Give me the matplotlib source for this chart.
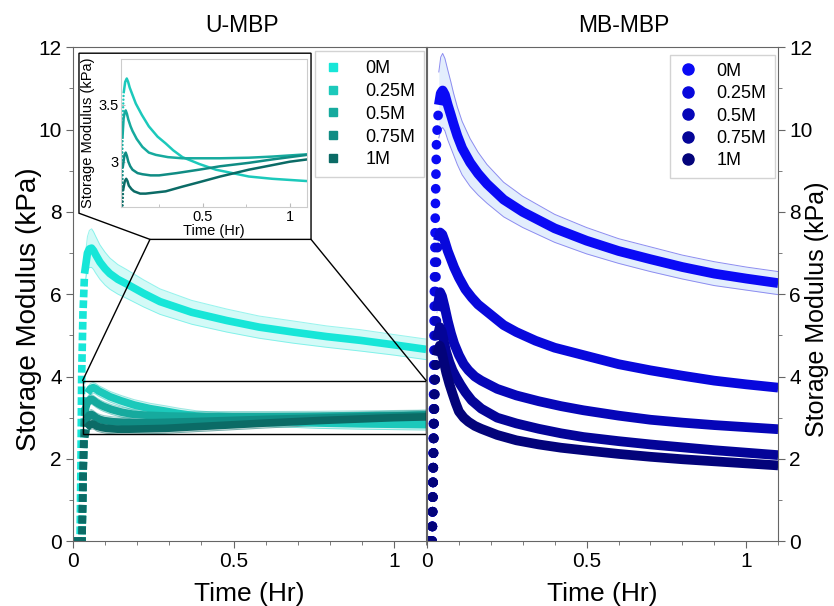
import numpy as np
import matplotlib.pyplot as plt
from matplotlib.lines import Line2D
from matplotlib.patches import Polygon, Rectangle, ConnectionPatch
from matplotlib.ticker import MultipleLocator

plt.rcParams['font.family'] = ['Liberation Sans', 'DejaVu Sans']

conc = ['0M', '0.25M', '0.5M', '0.75M', '1M']

# U-MBP: storage modulus (kPa) against time (hr), one list per urea concentration
u_t_0 = [0, 0.022, 0.025, 0.027, 0.031, 0.036, 0.045, 0.051, 0.058, 0.064, 0.07, 0.084, 0.1,
         0.115, 0.14, 0.167, 0.22, 0.271, 0.37, 0.479, 0.58, 0.686, 0.79, 0.894, 1.0, 1.1]
u_g_0 = [0, 0, 2.0, 4.0, 5.5, 6.5, 7.0, 7.1, 7.12, 7.06, 6.97, 6.78, 6.62,
         6.5, 6.36, 6.25, 6.02, 5.82, 5.56, 5.36, 5.2, 5.08, 4.97, 4.88, 4.77, 4.66]
u_sd_0 = [0, 0, 0.05, 0.1, 0.2, 0.3, 0.4, 0.45, 0.47, 0.46, 0.45, 0.42, 0.4,
          0.38, 0.36, 0.35, 0.33, 0.31, 0.29, 0.28, 0.27, 0.27, 0.26, 0.26, 0.25, 0.25]

u_t_25 = [0, 0.028, 0.031, 0.034, 0.038, 0.045, 0.054, 0.063, 0.071, 0.08, 0.1, 0.115, 0.15,
          0.19, 0.24, 0.287, 0.33, 0.383, 0.48, 0.575, 0.67, 0.765, 0.9, 1.0, 1.1]
u_g_25 = [0, 0, 1.5, 2.8, 3.3, 3.6, 3.7, 3.73, 3.7, 3.65, 3.57, 3.51, 3.41,
          3.31, 3.22, 3.16, 3.1, 3.04, 2.98, 2.93, 2.9, 2.87, 2.85, 2.84, 2.83]

u_t_50 = [0, 0.028, 0.031, 0.034, 0.038, 0.045, 0.051, 0.057, 0.064, 0.072, 0.085, 0.096, 0.12,
          0.153, 0.19, 0.23, 0.3, 0.383, 0.5, 0.6, 0.765, 0.9, 1.0, 1.1]
u_g_50 = [0, 0, 1.5, 2.7, 3.2, 3.38, 3.43, 3.45, 3.42, 3.37, 3.31, 3.27, 3.2,
          3.13, 3.08, 3.06, 3.04, 3.03, 3.03, 3.03, 3.035, 3.045, 3.055, 3.065]

u_t_75 = [0, 0.028, 0.031, 0.034, 0.04, 0.05, 0.057, 0.064, 0.072, 0.083, 0.096, 0.125, 0.153,
          0.2, 0.249, 0.35, 0.479, 0.6, 0.765, 0.9, 1.0, 1.1]
u_g_75 = [0, 0, 1.4, 2.5, 2.95, 3.06, 3.08, 3.05, 3.0, 2.96, 2.93, 2.9, 2.89,
          2.88, 2.88, 2.9, 2.93, 2.96, 2.99, 3.02, 3.04, 3.06]

u_t_100 = [0, 0.028, 0.031, 0.034, 0.042, 0.052, 0.06, 0.067, 0.075, 0.09, 0.105, 0.14, 0.172,
           0.287, 0.38, 0.479, 0.6, 0.765, 0.9, 1.0, 1.1]
u_g_100 = [0, 0, 1.4, 2.4, 2.75, 2.83, 2.85, 2.83, 2.79, 2.76, 2.74, 2.72, 2.72,
           2.74, 2.78, 2.82, 2.87, 2.93, 2.97, 3.0, 3.02]

# MB-MBP
m_t_0 = [0, 0.016, 0.019, 0.021, 0.023, 0.026, 0.03, 0.037, 0.043, 0.049, 0.056, 0.065, 0.075,
         0.083, 0.095, 0.11, 0.135, 0.16, 0.188, 0.24, 0.3, 0.4, 0.5, 0.6, 0.7, 0.8, 0.9, 1.0, 1.1]
m_g_0 = [0, 0, 2.0, 4.0, 6.0, 8.0, 9.8, 10.6, 10.88, 10.95, 10.85, 10.6, 10.35,
         10.14, 9.85, 9.55, 9.2, 8.93, 8.68, 8.3, 8.0, 7.6, 7.3, 7.05, 6.85, 6.66, 6.5, 6.38, 6.27]
m_sd_0 = [0, 0, 0.1, 0.2, 0.3, 0.45, 0.6, 0.8, 0.88, 0.9, 0.88, 0.85, 0.8,
          0.75, 0.7, 0.65, 0.58, 0.52, 0.47, 0.42, 0.38, 0.34, 0.32, 0.3, 0.3, 0.29, 0.29, 0.28, 0.28]

m_t_25 = [0, 0.016, 0.019, 0.022, 0.025, 0.029, 0.034, 0.041, 0.048, 0.055, 0.065, 0.075, 0.085,
          0.1, 0.12, 0.14, 0.16, 0.2, 0.24, 0.28, 0.34, 0.4, 0.5, 0.6, 0.7, 0.8, 0.9, 1.0, 1.1]
m_g_25 = [0, 0, 1.5, 3.5, 5.5, 6.7, 7.3, 7.5, 7.45, 7.3, 7.05, 6.85, 6.65,
          6.4, 6.12, 5.92, 5.75, 5.5, 5.25, 5.08, 4.87, 4.7, 4.5, 4.3, 4.15, 4.02, 3.9, 3.81, 3.73]

m_t_50 = [0, 0.016, 0.019, 0.022, 0.026, 0.031, 0.041, 0.047, 0.055, 0.065, 0.075, 0.085, 0.1,
          0.115, 0.13, 0.15, 0.17, 0.22, 0.28, 0.35, 0.42, 0.49, 0.6, 0.7, 0.8, 0.9, 1.0, 1.1]
m_g_50 = [0, 0, 1.5, 3.3, 4.8, 5.6, 6.05, 5.95, 5.7, 5.35, 5.05, 4.8, 4.52,
          4.3, 4.15, 4.0, 3.9, 3.7, 3.54, 3.4, 3.28, 3.18, 3.05, 2.95, 2.88, 2.82, 2.77, 2.72]

m_t_75 = [0, 0.016, 0.019, 0.022, 0.026, 0.031, 0.04, 0.046, 0.053, 0.06, 0.07, 0.08, 0.09,
          0.105, 0.12, 0.14, 0.17, 0.22, 0.28, 0.35, 0.42, 0.49, 0.6, 0.7, 0.8, 0.9, 1.0, 1.1]
m_g_75 = [0, 0, 1.4, 3.0, 4.3, 4.9, 5.2, 5.1, 4.85, 4.6, 4.35, 4.15, 4.0,
          3.8, 3.62, 3.42, 3.22, 3.0, 2.86, 2.73, 2.62, 2.53, 2.43, 2.35, 2.28, 2.21, 2.15, 2.09]

m_t_100 = [0, 0.016, 0.019, 0.022, 0.026, 0.031, 0.04, 0.046, 0.053, 0.06, 0.07, 0.08, 0.09,
           0.1, 0.115, 0.13, 0.15, 0.17, 0.22, 0.28, 0.35, 0.42, 0.49, 0.6, 0.7, 0.8, 0.9, 1.0, 1.1]
m_g_100 = [0, 0, 1.3, 2.8, 4.0, 4.5, 4.75, 4.6, 4.35, 4.1, 3.82, 3.58, 3.35,
           3.15, 3.0, 2.9, 2.8, 2.73, 2.58, 2.45, 2.35, 2.27, 2.21, 2.12, 2.05, 1.99, 1.94, 1.89, 1.84]

u_series = [(u_t_0, u_g_0, u_sd_0), (u_t_25, u_g_25, 0.13), (u_t_50, u_g_50, 0.12),
            (u_t_75, u_g_75, 0.12), (u_t_100, u_g_100, 0.12)]
m_series = [(m_t_0, m_g_0, m_sd_0), (m_t_25, m_g_25, 0.07), (m_t_50, m_g_50, 0.05),
            (m_t_75, m_g_75, 0.05), (m_t_100, m_g_100, 0.05)]

teal = ['#17E6D8', '#1CC9BB', '#16AA9E', '#108C84', '#0B6B66']
blue = ['#0A0AF5', '#0808DC', '#0606B8', '#040498', '#03037A']
GRAY = '#666666'


def draw_series(ax, t, g, sd, color, lw, cap, gap, fill=None, edge=None):
    t = np.asarray(t, float)
    g = np.asarray(g, float)
    sd = np.broadcast_to(np.asarray(sd, float), g.shape)
    k = int(np.argmax(np.diff(g) < 0))           # first peak after the ramp
    j = int(np.argmax(g >= 0.9 * g[k]))          # ramp points below this are sparse
    if fill is not None:
        s = slice(j, None)
        ax.fill_between(t[s], (g - sd)[s], (g + sd)[s], color=fill, lw=0, zorder=1)
        ax.plot(t[s], (g + sd)[s], color=edge, lw=0.7, zorder=1)
        ax.plot(t[s], (g - sd)[s], color=edge, lw=0.7, zorder=1)
    ax.plot(t[:2], g[:2], color=color, lw=lw, solid_capstyle='butt', zorder=2)
    ax.plot(t[1:j + 1], g[1:j + 1], color=color, lw=lw, ls=(0, (0.01, gap)),
            dash_capstyle=cap, zorder=2)
    ax.plot(t[j:], g[j:], color=color, lw=lw, solid_joinstyle='round',
            solid_capstyle='butt', zorder=2)


def style_axes(ax):
    ax.set_xlim(0, 1.1)
    ax.set_ylim(0, 12)
    ax.xaxis.set_major_locator(MultipleLocator(0.5))
    ax.xaxis.set_minor_locator(MultipleLocator(0.1))
    ax.yaxis.set_major_locator(MultipleLocator(2))
    ax.yaxis.set_minor_locator(MultipleLocator(1))
    ax.xaxis.set_major_formatter(plt.FuncFormatter(lambda v, p: f'{v:g}'))
    ax.tick_params(which='both', direction='out', color=GRAY, labelsize=15, pad=3)
    ax.tick_params(which='major', length=5)
    ax.tick_params(which='minor', length=3)
    for sp in ax.spines.values():
        sp.set_color(GRAY)
    ax.set_xlabel('Time (Hr)', fontsize=19, labelpad=8)


fig = plt.figure(figsize=(8.34, 6.06), dpi=100)
ax1 = fig.add_axes([0.0875, 0.107, 0.4235, 0.815])
ax2 = fig.add_axes([0.512, 0.107, 0.421, 0.815])

# U-MBP panel
style_axes(ax1)
for (t, g, sd), c in zip(u_series, teal):
    draw_series(ax1, t, g, sd, c, lw=5.5, cap='projecting', gap=1.4,
                fill=c + '30', edge=c + '70')
ax1.set_title('U-MBP', fontsize=16.5, pad=11, x=0.48)
ax1.set_ylabel('Storage Modulus (kPa)', fontsize=20)
ax1.yaxis.set_label_coords(-0.088, 0.47)
ax1.tick_params(right=False, which='both')

# zoom box and callout frame
ax1.add_patch(Rectangle((0.03, 2.6), 1.07, 1.3, fill=False, ec='black', lw=1, zorder=3))
frame = Polygon([(0.017, 0.988), (0.674, 0.988), (0.674, 0.611), (0.218, 0.611), (0.017, 0.664)],
                closed=True, transform=ax1.transAxes, fc='white', ec='black', lw=1, zorder=4)
ax1.add_patch(frame)
for xa, xd in [(0.218, 0.03), (0.674, 1.1)]:
    ax1.add_artist(ConnectionPatch(xyA=(xa, 0.611), coordsA=ax1.transAxes,
                                   xyB=(xd, 3.9), coordsB=ax1.transData,
                                   color='black', lw=1, zorder=4))

axin = ax1.inset_axes([0.136, 0.676, 0.527, 0.30], zorder=5)
for (t, g, sd), c in zip(u_series[1:], teal[1:]):
    draw_series(axin, t, g, sd, c, lw=1.8, cap='round', gap=1.5)
axin.set_xlim(0.03, 1.1)
axin.set_ylim(2.6, 3.9)
axin.set_xticks([0.5, 1])
axin.set_xticklabels(['0.5', '1'])
axin.set_xticks([0.25, 0.75], minor=True)
axin.set_yticks([3, 3.5])
axin.set_yticklabels(['3', '3.5'])
axin.tick_params(which='both', direction='in', color='#BBBBBB', labelsize=10.5, pad=2)
axin.tick_params(which='major', length=3)
axin.tick_params(which='minor', length=2)
for sp in axin.spines.values():
    sp.set_color('#CCCCCC')
axin.set_xlabel('Time (Hr)', fontsize=10.5, labelpad=0)
axin.set_ylabel('Storage Modulus (kPa)', fontsize=10.5, labelpad=2)

h1 = [Line2D([], [], ls='none', marker='s', ms=6, color=c) for c in teal]
leg1 = ax1.legend(h1, conc, loc='upper right', bbox_to_anchor=(0.995, 0.992), borderaxespad=0,
                  fontsize=13, frameon=True, fancybox=False, edgecolor='#C8C8C8',
                  handlelength=1.0, handletextpad=1.3, labelspacing=0.32, borderpad=0.5)
leg1.set_zorder(6)

# MB-MBP panel
style_axes(ax2)
for i, ((t, g, sd), c) in enumerate(zip(m_series, blue)):
    if i == 0:
        draw_series(ax2, t, g, sd, c, lw=7, cap='round', gap=1.5,
                    fill='#E3EEFD', edge='#8C8CF0')
    else:
        draw_series(ax2, t, g, sd, c, lw=7, cap='round', gap=1.5,
                    fill='#DDE6FB', edge='#B8C4F4')
ax2.set_title('MB-MBP', fontsize=16.5, pad=11, x=0.56)
ax2.yaxis.tick_right()
ax2.yaxis.set_label_position('right')
ax2.set_ylabel('Storage Modulus (kPa)', fontsize=18)
ax2.yaxis.set_label_coords(1.076, 0.47)
ax2.tick_params(left=False, which='both')

h2 = [Line2D([], [], ls='none', marker='o', ms=8, color=c) for c in blue]
ax2.legend(h2, conc, loc='upper right', bbox_to_anchor=(0.99, 0.985), borderaxespad=0,
           fontsize=13, frameon=True, fancybox=False, edgecolor='#C8C8C8',
           handlelength=1.0, handletextpad=1.1, labelspacing=0.3, borderpad=0.45)

fig.savefig('out.png', dpi=100)
